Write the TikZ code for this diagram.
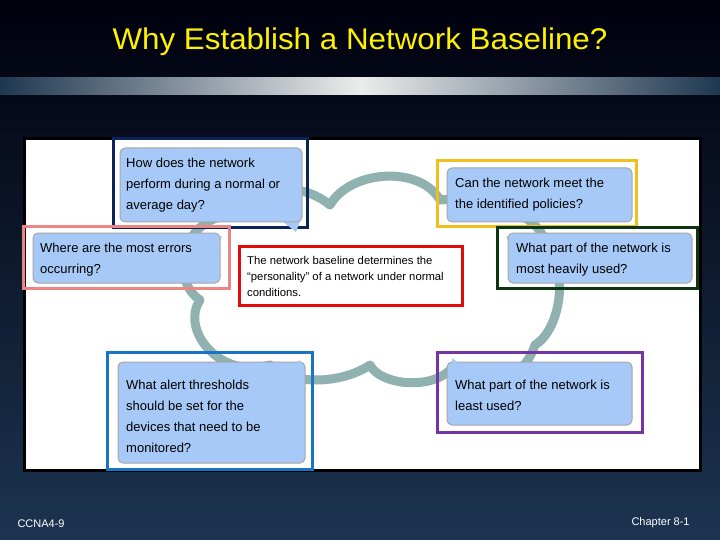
\documentclass[tikz,border=0pt]{standalone}
\usepackage{fontspec}
\setmainfont{Liberation Sans}
\begin{document}
\begin{tikzpicture}[x=1pt,y=-1pt,
  bub/.style={draw=gray!70,fill=bubc,rounded corners=5pt,line width=1pt},
  frm/.style={draw,line width=3pt},
  qt/.style={anchor=north west,align=left,font=\fontsize{13}{21}\selectfont,inner sep=0pt},
  tail/.style={fill=bubc,draw=none}]
\definecolor{bubc}{HTML}{A6C9F7}
\definecolor{cloudc}{HTML}{8FB2B0}
\definecolor{navy}{HTML}{0B2358}
\definecolor{ylw}{HTML}{F2BE1C}
\definecolor{pnk}{HTML}{EE8585}
\definecolor{rd}{HTML}{E00B0B}
\definecolor{dgr}{HTML}{0E3512}
\definecolor{blu}{HTML}{1A74C6}
\definecolor{prp}{HTML}{7434A4}
\useasboundingbox (0,0) rectangle (720,540);
\shade[top color=black!95!blue,bottom color={rgb,255:red,28;green,52;blue,80}] (0,0) rectangle (720,540);
\shade[left color={rgb,255:red,30;green,55;blue,80},right color=white!85!gray] (0,78) rectangle (360,95);
\shade[right color={rgb,255:red,30;green,55;blue,80},left color=white!85!gray] (360,78) rectangle (720,95);
\node[font=\fontsize{28.5}{30}\selectfont,text=yellow,xscale=1.1,yscale=1.05] (title) at (360,42) {Why Establish a Network Baseline?};
\node[font=\fontsize{11}{12}\selectfont,text=white,anchor=west] (l) at (14,524) {CCNA4-9};
\node[font=\fontsize{11}{12}\selectfont,text=white,anchor=west] (r) at (628,523) {Chapter 8-1};
\draw[fill=white,line width=3pt,draw=black] (24,139) rectangle (700,470);
% cloud
\draw[cloudc,line width=9pt,line cap=round,line join=round]
 (230,215) .. controls (250,185) and (300,180) .. (330,205)
 .. controls (350,170) and (420,165) .. (440,200)
 .. controls (480,195) and (550,215) .. (545,250)
 .. controls (570,270) and (560,330) .. (535,345)
 .. controls (520,390) and (470,390) .. (450,370)
 .. controls (430,390) and (380,385) .. (370,365)
 .. controls (340,385) and (290,385) .. (270,365)
 .. controls (220,380) and (180,330) .. (200,300)
 .. controls (170,280) and (180,220) .. (230,215);
% frames and bubbles
\draw[frm,navy] (113,139) rectangle (307,228);
\fill[tail] (282,221) -- (300,221) -- (296,232) -- cycle;
\draw[bub] (120,148) rectangle (302,222);
\node[qt] (q1) at (126,158) {How does the network\\perform during a normal or\\average day?};
\draw[frm,ylw] (437,161) rectangle (636,227);
\draw[bub] (447,168) rectangle (632,222);
\node[qt] (q2) at (455,178) {Can the network meet the\\the identified policies?};
\draw[frm,pnk] (23,227) rectangle (229,288);
\fill[tail] (212,240) -- (212,258) -- (222,236) -- cycle;
\draw[bub] (33,233) rectangle (220,283);
\node[qt] (q3) at (40,243) {Where are the most errors\\occurring?};
\draw[frm,rd] (239,246) rectangle (462,305);
\node[anchor=north west,align=left,font=\fontsize{11.3}{16}\selectfont,inner sep=0pt] (c) at (247,256) {The network baseline determines the\\“personality” of a network under normal\\conditions.};
\draw[frm,dgr] (497,228) rectangle (697,288);
\fill[tail] (516,240) -- (516,258) -- (506,236) -- cycle;
\draw[bub] (508,233) rectangle (692,283);
\node[qt] (q4) at (516,243) {What part of the network is\\most heavily used?};
\draw[frm,blu] (107,352) rectangle (312,469);
\draw[bub] (118,362) rectangle (305,463);
\fill[tail] (286,372) -- (304,372) -- (300,360) -- cycle;
\node[qt] (q5) at (126,380) {What alert thresholds\\should be set for the\\devices that need to be\\monitored?};
\draw[frm,prp] (437,352) rectangle (642,432);
\draw[bub] (447,362) rectangle (632,425);
\fill[tail] (452,372) -- (470,372) -- (452,358) -- cycle;
\node[qt] (q6) at (455,380) {What part of the network is\\least used?};
\end{tikzpicture}
\end{document}
